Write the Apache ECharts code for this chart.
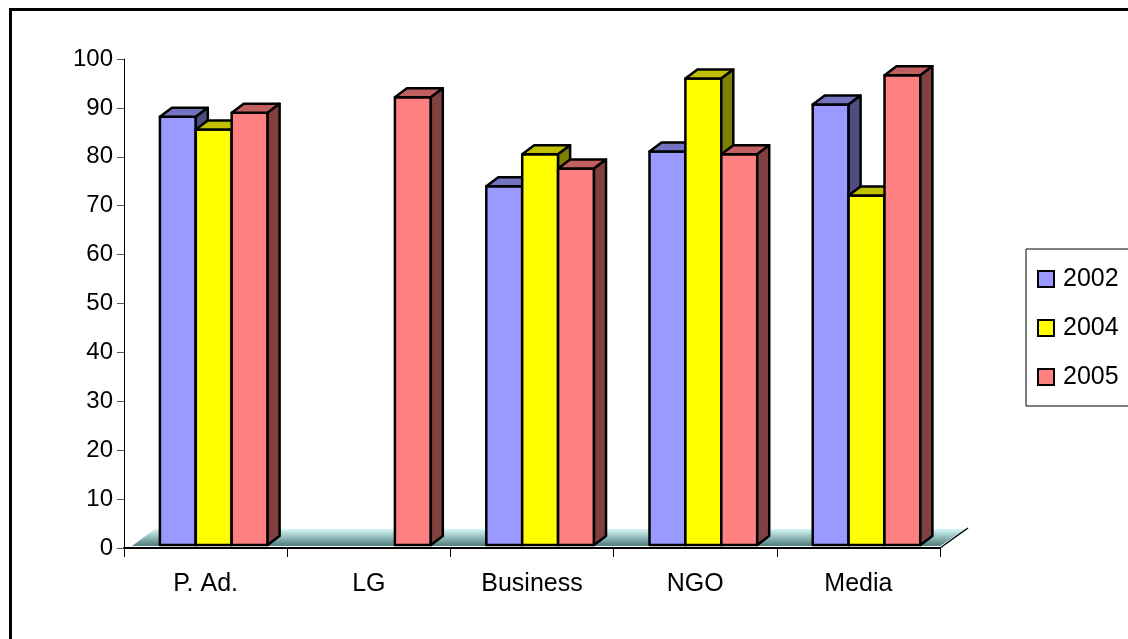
<!DOCTYPE html>
<html>
<head>
<meta charset="utf-8">
<script src="https://cdn.jsdelivr.net/npm/echarts@6/dist/echarts.min.js"></script>
<style>
  html, body { margin: 0; padding: 0; background: #fff; }
  #chart { width: 1128px; height: 639px; }
</style>
</head>
<body>
<div id="chart"></div>
<script>
// Sector categories and yearly scores
const categories = ['P. Ad.', 'LG', 'Business', 'NGO', 'Media'];
const years = ['2002', '2004', '2005'];
const values2002 = [88.2, null, 74, 81.1, 90.7];
const values2004 = [85.6, null, 80.5, 96, 72.1];
const values2005 = [89, 92.2, 77.6, 80.5, 96.7];
const yMin = 0, yMax = 100, yStep = 10;

const FONT = '"Liberation Sans", Arial, sans-serif';

// front / top / side shades for each year
const palettes = [
  { front: '#9999FF', top: '#7373C0', side: '#4D4D80' },
  { front: '#FFFF00', top: '#C0C000', side: '#808000' },
  { front: '#FF8080', top: '#C06060', side: '#804040' }
];

const DX = 12, DY = 9;   // depth offset of the 3D boxes

function barRenderer(slot, pal) {
  return function (params, api) {
    const v = api.value(1);
    if (v == null || isNaN(v)) return;
    const c = api.value(0);
    const base = api.coord([c, 0]);
    const top = api.coord([c, v]);
    const cw = api.size([1, 0])[0];
    const bw = cw * 0.22;
    const x0 = base[0] - cw * 0.28 + slot * bw;
    const x1 = x0 + bw;
    const yb = base[1] - 3;
    const yt = top[1];
    const stroke = { stroke: '#000', lineWidth: 2.5, lineJoin: 'round' };
    return {
      type: 'group',
      children: [
        { type: 'polygon', shape: { points: [[x0, yt], [x1, yt], [x1, yb], [x0, yb]] },
          style: Object.assign({ fill: pal.front }, stroke) },
        { type: 'polygon', shape: { points: [[x0, yt], [x0 + DX, yt - DY], [x1 + DX, yt - DY], [x1, yt]] },
          style: Object.assign({ fill: pal.top }, stroke) },
        { type: 'polygon', shape: { points: [[x1, yt], [x1 + DX, yt - DY], [x1 + DX, yb - DY], [x1, yb]] },
          style: Object.assign({ fill: pal.side }, stroke) }
      ]
    };
  };
}

// floor slab under the bars
function floorRenderer(params, api) {
  const cs = params.coordSys;
  const y0 = api.coord([0, 0])[1];
  const left = cs.x, right = cs.x + cs.width;
  return {
    type: 'group',
    children: [
      { type: 'polygon',
        shape: { points: [[left + 8, y0 - 2], [right, y0 - 2], [right + 26, y0 - 19], [left + 31, y0 - 19]] },
        style: { fill: new echarts.graphic.LinearGradient(0, 0, 0, 1, [
          { offset: 0, color: '#D6F8F8' }, { offset: 1, color: '#4E7C7C' }]) } },
      { type: 'line', shape: { x1: right, y1: y0, x2: right + 28, y2: y0 - 20 },
        style: { stroke: '#000', lineWidth: 1.5 } }
    ]
  };
}

const allValues = [values2002, values2004, values2005];
const barSeries = years.map((name, s) => ({
  name: name,
  type: 'custom',
  renderItem: barRenderer(s, palettes[s]),
  itemStyle: { color: palettes[s].front },
  encode: { x: 0, y: 1 },
  data: allValues[s].map((v, i) => [i, v]),
  z: 3
}));

const chart = echarts.init(document.getElementById('chart'), null, { renderer: 'canvas' });
chart.setOption({
  animation: false,
  backgroundColor: '#fff',
  graphic: [{
    type: 'rect', silent: true, z: 100,
    shape: { x: 10.5, y: 9.5, width: 1300, height: 800 },
    style: { fill: 'none', stroke: '#000', lineWidth: 3 }
  }],
  grid: { left: 124, right: 188, top: 59, bottom: 91 },
  xAxis: {
    type: 'category',
    data: categories,
    boundaryGap: true,
    axisLine: { lineStyle: { color: '#000', width: 2 } },
    axisTick: { show: true, length: 9, lineStyle: { color: '#000', width: 1 } },
    axisLabel: { color: '#000', fontSize: 25, fontFamily: FONT, margin: 24 },
    splitLine: { show: false }
  },
  yAxis: {
    type: 'value',
    min: yMin, max: yMax, interval: yStep,
    axisLine: { show: true, lineStyle: { color: '#000', width: 1 } },
    axisTick: { show: true, length: 7, lineStyle: { color: '#555', width: 1 } },
    axisLabel: { color: '#000', fontSize: 24, fontFamily: FONT, margin: 11 },
    splitLine: { show: false }
  },
  legend: {
    orient: 'vertical',
    left: 1026, top: 249,
    padding: [15, 20, 14, 11],
    backgroundColor: '#fff',
    borderColor: '#000', borderWidth: 1,
    icon: 'rect',
    itemWidth: 16, itemHeight: 16,
    itemGap: 19,
    textStyle: { color: '#000', fontSize: 25, fontFamily: FONT, lineHeight: 30, padding: [0, 0, 0, 4] },
    data: years.map(name => ({ name: name, itemStyle: { borderColor: '#000', borderWidth: 2 } }))
  },
  series: [{
    name: 'floor',
    type: 'custom',
    renderItem: floorRenderer,
    data: [[0, 0]],
    encode: { x: 0, y: 1 },
    silent: true,
    z: 1
  }].concat(barSeries)
});
</script>
</body>
</html>
